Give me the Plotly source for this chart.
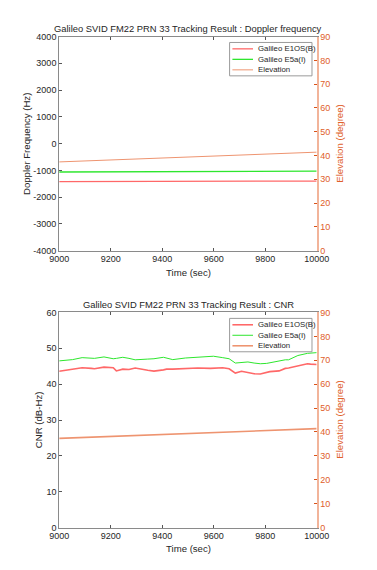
import plotly.graph_objects as go

# ---------------- data ----------------
dop_time = [9000, 9250, 9500, 9750, 10000]
dop_e1 = [-1420, -1415, -1410, -1405, -1400]
dop_e5 = [-1062, -1055, -1047, -1038, -1030]

elev_time = [9000, 9250, 9500, 9750, 10000]
elev_deg = [37.3, 38.3, 39.4, 40.4, 41.4]

cnr_time = [9000, 9052, 9089, 9125, 9137, 9174, 9210, 9222, 9247, 9271, 9295,
            9344, 9356, 9368, 9405, 9417, 9441, 9490, 9538, 9587, 9599, 9635,
            9660, 9684, 9708, 9733, 9757, 9781, 9806, 9818, 9854, 9878, 9891,
            9927, 9964, 9976, 10000]
cnr_e5 = [46.5, 46.85, 47.4, 47.1, 47.2, 47.6, 47.1, 47.2, 47.5, 47.2, 46.8,
          47.0, 47.0, 47.1, 47.5, 47.3, 46.85, 47.3, 47.5, 47.7, 47.8, 47.4,
          47.1, 45.9, 46.1, 46.2, 45.9, 45.7, 45.8, 46.0, 46.6, 46.8, 46.8,
          48.0, 48.6, 48.7, 48.8]
cnr_e1 = [43.6, 44.2, 44.6, 44.4, 44.3, 44.75, 44.6, 43.7, 44.2, 44.1, 44.5,
          43.9, 43.7, 43.65, 44.0, 44.2, 44.2, 44.4, 44.5, 44.4, 44.4, 44.6,
          44.3, 43.1, 43.6, 43.3, 42.9, 42.85, 43.2, 43.5, 43.7, 44.4, 44.5,
          45.1, 45.7, 45.6, 45.5]

series_names = ["Galileo E1OS(B)", "Galileo E5a(I)", "Elevation"]

time_ticks = [9000, 9200, 9400, 9600, 9800, 10000]
time_labels = ["9000", "9200", "9400", "9600", "9800", "10000"]
dop_ticks = [-4000, -3000, -2000, -1000, 0, 1000, 2000, 3000, 4000]
dop_labels = ["-4000", "-3000", "-2000", "-1000", "0", "1000", "2000", "3000", "4000"]
cnr_ticks = [0, 10, 20, 30, 40, 50, 60]
elev_ticks = [0, 10, 20, 30, 40, 50, 60, 70, 80, 90]

RED = "#FF6868"
GREEN = "#2EE62E"
ELEV = "#EE9470"
ORANGE = "#D95319"
ORANGE_TXT = "#E0602A"
TXT = "#262626"
FONT = "Liberation Sans, Arial, sans-serif"
COLORS = [RED, GREEN, ELEV]
TOP_W = [1.3, 1.3, 1.0]
BOT_W = [1.6, 1.0, 1.6]

fig = go.Figure()

# top plot
fig.add_trace(go.Scatter(x=dop_time, y=dop_e1, mode="lines", name=series_names[0],
                         line=dict(color=RED, width=TOP_W[0]), xaxis="x", yaxis="y"))
fig.add_trace(go.Scatter(x=dop_time, y=dop_e5, mode="lines", name=series_names[1],
                         line=dict(color=GREEN, width=TOP_W[1]), xaxis="x", yaxis="y"))
fig.add_trace(go.Scatter(x=elev_time, y=elev_deg, mode="lines", name=series_names[2],
                         line=dict(color=ELEV, width=TOP_W[2]), xaxis="x", yaxis="y2"))
# bottom plot
fig.add_trace(go.Scatter(x=cnr_time, y=cnr_e1, mode="lines", name=series_names[0],
                         line=dict(color=RED, width=BOT_W[0]), xaxis="x2", yaxis="y3"))
fig.add_trace(go.Scatter(x=cnr_time, y=cnr_e5, mode="lines", name=series_names[1],
                         line=dict(color=GREEN, width=BOT_W[1]), xaxis="x2", yaxis="y3"))
fig.add_trace(go.Scatter(x=elev_time, y=elev_deg, mode="lines", name=series_names[2],
                         line=dict(color=ELEV, width=BOT_W[2]), xaxis="x2", yaxis="y4"))

# page body has an 8px margin on every side: shrink figure to fit and shift positions
OFF = 8
W, H = 377 - 2 * OFF, 570 - 2 * OFF
def px(x):
    return (x - OFF) / W
def py(y):
    return 1 - (y - OFF) / H

xd = [px(52), px(327)]
top_d = [py(250), py(32)]
bot_d = [py(532), py(313)]

xcommon = dict(range=[9000, 10000], tickvals=time_ticks, ticktext=time_labels,
               ticks="inside", ticklen=3, tickcolor="#555", showline=True, linecolor="#8a8a8a",
               linewidth=1, mirror="ticks", showgrid=False, zeroline=False,
               tickfont=dict(size=9, color=TXT, family=FONT), domain=xd)
ycommon = dict(ticks="inside", ticklen=3, tickcolor="#555", showline=True, linecolor="#8a8a8a",
               linewidth=1, showgrid=False, zeroline=False,
               tickfont=dict(size=9, color=TXT, family=FONT))
rcommon = dict(range=[0, 90], tickvals=elev_ticks, ticks="inside", ticklen=3,
               tickcolor=ORANGE, showline=True, linecolor="#F2B49A", linewidth=1.5,
               showgrid=False, zeroline=False, side="right",
               tickfont=dict(size=9, color=ORANGE_TXT, family=FONT))

fig.update_layout(
    width=W, height=H, autosize=False,
    margin=dict(l=0, r=0, t=0, b=0),
    paper_bgcolor="white", plot_bgcolor="white",
    font=dict(family=FONT, size=9, color=TXT),
    showlegend=False,
    xaxis=dict(**xcommon, anchor="y"),
    yaxis=dict(**ycommon, range=[-4000, 4000], tickvals=dop_ticks, ticktext=dop_labels,
               domain=top_d, anchor="x"),
    yaxis2=dict(**rcommon, overlaying="y", anchor="x"),
    xaxis2=dict(**xcommon, anchor="y3"),
    yaxis3=dict(**ycommon, range=[0, 60], tickvals=cnr_ticks,
                domain=bot_d, anchor="x2"),
    yaxis4=dict(**rcommon, overlaying="y3", anchor="x2"),
)

ann = []
shapes = []
def a(text, x, y, angle=0, color=TXT, size=9, xanchor="center"):
    ann.append(dict(text=text, x=px(x), y=py(y), xref="paper", yref="paper",
                    showarrow=False, textangle=angle, xanchor=xanchor, yanchor="middle",
                    font=dict(size=size, color=color, family=FONT)))

a("Galileo SVID FM22 PRN 33 Tracking Result : Doppler frequency", 190, 24, size=9.4)
a("Galileo SVID FM22 PRN 33 Tracking Result : CNR", 190, 305, size=9.4)
a("Doppler Frequency (Hz)", 17, 141, angle=-90, size=9.6)
a("CNR (dB-Hz)", 30, 422, angle=-90, size=9.6)
a("Elevation (degree)", 352, 141, angle=-90, color=ORANGE_TXT, size=9.6)
a("Elevation (degree)", 351, 422, angle=-90, color=ORANGE_TXT, size=9.6)
a("Time (sec)", 190, 272, size=9.6)
a("Time (sec)", 190, 553, size=9.6)

# MATLAB-style compact legend boxes
def legend_box(top, widths):
    shapes.append(dict(type="rect", xref="paper", yref="paper",
                       x0=px(234), x1=px(322), y0=py(top + 34), y1=py(top),
                       line=dict(color="#9a9a9a", width=1), fillcolor="white", layer="above"))
    for i, (name, col, w) in enumerate(zip(series_names, COLORS, widths)):
        yy = top + 6.5 + i * 10.7
        shapes.append(dict(type="line", xref="paper", yref="paper",
                           x0=px(237), x1=px(259), y0=py(yy), y1=py(yy),
                           line=dict(color=col, width=w), layer="above"))
        a(name, 262, yy, size=7.8, xanchor="left")

legend_box(38, TOP_W)
legend_box(319, BOT_W)

fig.update_layout(annotations=ann, shapes=shapes)

fig.write_html("out.html")
